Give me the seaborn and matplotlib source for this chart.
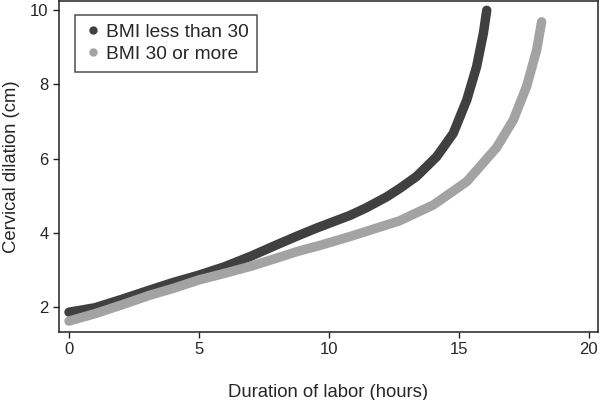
import numpy as np
import pandas as pd
import matplotlib.pyplot as plt
import seaborn as sns
from matplotlib.lines import Line2D

sns.set_style('ticks')
plt.rcParams['font.family'] = ['Liberation Sans', 'DejaVu Sans']

# 数据: 曲线点
hours_low = [0, 1, 2, 3.12, 4, 5, 6, 7, 8, 8.8, 9.53, 10.81, 11.45, 12.22, 12.73, 13.37,
             14.14, 14.78, 15.3, 15.68, 15.94, 16.07]
dil_low = [1.86, 1.98, 2.2, 2.46, 2.66, 2.86, 3.09, 3.37, 3.68, 3.92, 4.13, 4.47, 4.68, 4.97,
           5.2, 5.52, 6.05, 6.68, 7.58, 8.48, 9.38, 10.0]
hours_high = [0, 1, 2, 3.12, 4, 5, 6, 7, 8, 8.8, 9.65, 10.81, 12.7, 14.01, 15.3, 16.45,
              17.09, 17.6, 17.99, 18.18]
dil_high = [1.62, 1.82, 2.05, 2.32, 2.5, 2.73, 2.91, 3.1, 3.32, 3.5, 3.66, 3.9, 4.32, 4.75,
            5.38, 6.3, 7.04, 7.94, 8.93, 9.69]
groups = ['BMI less than 30', 'BMI 30 or more']
colors = ['#404040', '#a3a3a3']

df = pd.concat([
    pd.DataFrame({'hours': hours_low, 'dilation': dil_low, 'group': groups[0]}),
    pd.DataFrame({'hours': hours_high, 'dilation': dil_high, 'group': groups[1]}),
])

fig = plt.figure(figsize=(6, 4), dpi=100)
ax = fig.add_axes([0.0983, 0.17, 0.8984, 0.8275])
sns.lineplot(data=df, x='hours', y='dilation', hue='group', palette=colors,
             linewidth=6.8, legend=False, ax=ax)
for line in ax.lines:
    line.set_solid_capstyle('round')
    line.set_solid_joinstyle('round')

ax.set_xlim(-0.385, 20.35)
ax.set_ylim(1.326, 10.25)
ax.set_xticks([0, 5, 10, 15, 20])
ax.set_yticks([2, 4, 6, 8, 10])
ax.tick_params(axis='both', labelsize=12, length=4.5, width=1, color='#222222', pad=3)
for s in ax.spines.values():
    s.set_linewidth(1.1)
    s.set_color('#222222')
ax.set_xlabel('Duration of labor (hours)', fontsize=13.3, labelpad=19)
ax.set_ylabel('Cervical dilation (cm)', fontsize=13.3, labelpad=7)

handles = [Line2D([], [], marker='o', linestyle='none', color=c, markersize=5) for c in colors]
leg = ax.legend(handles, groups, loc='upper left', bbox_to_anchor=(0.03, 0.958),
                fontsize=13.8, frameon=True, fancybox=False, edgecolor='#222222',
                handletextpad=0.15, borderpad=0.45, labelspacing=0.25, handlelength=1.0,
                borderaxespad=0)
leg.get_frame().set_linewidth(1.1)

plt.savefig('out.png', dpi=100)
